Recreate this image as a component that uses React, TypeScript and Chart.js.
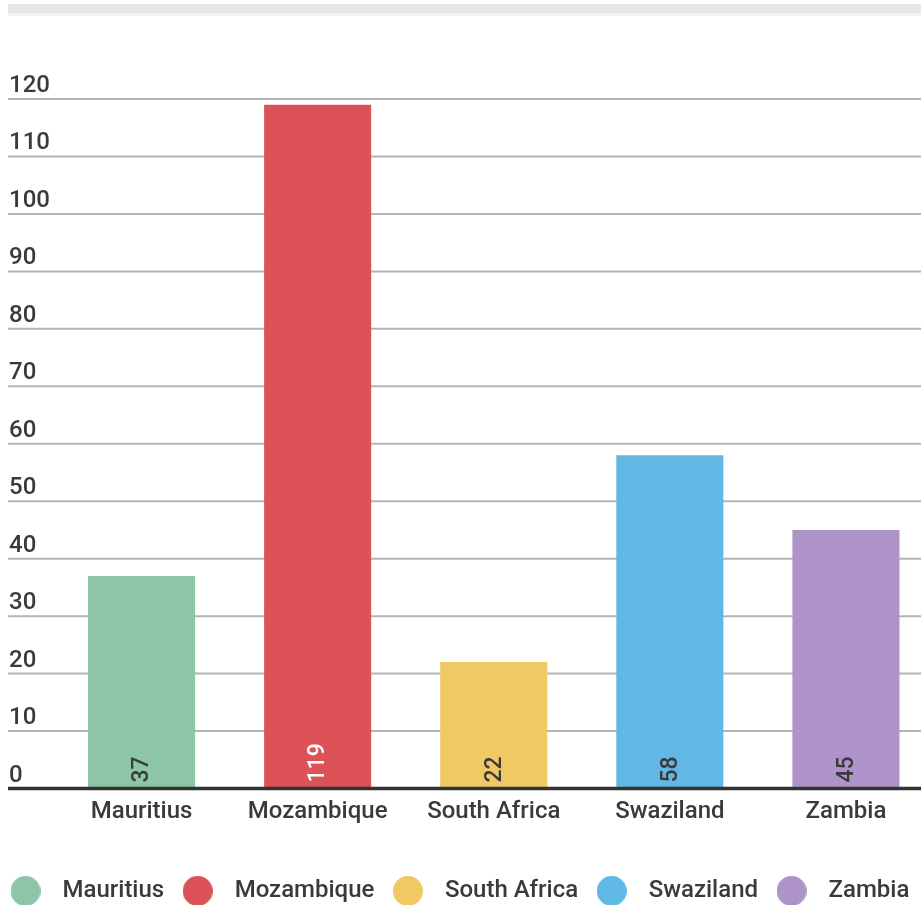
import React, { useEffect, useRef } from "react";
import { Chart, registerables } from "chart.js";

Chart.register(...registerables);

const categories = ["Mauritius", "Mozambique", "South Africa", "Swaziland", "Zambia"];
const values = [37, 119, 22, 58, 45];
const barColors = ["#8dc5a7", "#dc5257", "#f0c964", "#62b8e5", "#ae93c8"];
const valueLabelColors = ["#3a3a3a", "#ffffff", "#3a3a3a", "#3a3a3a", "#3a3a3a"];
const yTickValues = [0, 10, 20, 30, 40, 50, 60, 70, 80, 90, 100, 110, 120];

const FONT = "Roboto, 'Noto Sans', sans-serif";
const CANVAS_LEFT = -8; // page x of canvas left edge

function circleImage(color: string) {
  const c = document.createElement("canvas");
  c.width = 30;
  c.height = 30;
  const g = c.getContext("2d")!;
  g.fillStyle = color;
  g.beginPath();
  g.arc(15, 15, 15, 0, Math.PI * 2);
  g.fill();
  return c;
}

const decorPlugin = {
  id: "decor",
  beforeDraw(chart: any) {
    const ctx = chart.ctx;
    ctx.save();
    ctx.fillStyle = "#e6e6e6";
    ctx.fillRect(8 - CANVAS_LEFT, 4, chart.width, 9);
    ctx.fillStyle = "#f4f4f4";
    ctx.fillRect(8 - CANVAS_LEFT, 13, chart.width, 3);
    ctx.restore();
  },
  beforeDatasetsDraw(chart: any) {
    const ctx = chart.ctx;
    const y = chart.scales.y;
    ctx.save();
    ctx.strokeStyle = "#b4b4b4";
    ctx.lineWidth = 2;
    ctx.fillStyle = "#3a3a3a";
    ctx.font = `500 24px ${FONT}`;
    ctx.textAlign = "left";
    ctx.textBaseline = "alphabetic";
    yTickValues.forEach((v) => {
      const py = y.getPixelForValue(v);
      if (v !== 0) {
        ctx.beginPath();
        ctx.moveTo(8 - CANVAS_LEFT, py);
        ctx.lineTo(chart.width, py);
        ctx.stroke();
      }
      ctx.fillText(String(v), 9 - CANVAS_LEFT, py - 7);
    });
    ctx.restore();
  },
  afterDatasetsDraw(chart: any) {
    const ctx = chart.ctx;
    const y = chart.scales.y;
    const meta = chart.getDatasetMeta(0);
    ctx.save();
    ctx.font = `500 23px ${FONT}`;
    ctx.textAlign = "left";
    ctx.textBaseline = "middle";
    meta.data.forEach((bar: any, i: number) => {
      ctx.save();
      ctx.translate(bar.x + 1, y.getPixelForValue(0) - 6);
      ctx.rotate(-Math.PI / 2);
      ctx.fillStyle = valueLabelColors[i];
      ctx.fillText(String(values[i]), 0, 0);
      ctx.restore();
    });
    const base = y.getPixelForValue(0);
    ctx.strokeStyle = "#333333";
    ctx.lineWidth = 3.5;
    ctx.beginPath();
    ctx.moveTo(8 - CANVAS_LEFT, base);
    ctx.lineTo(chart.width, base);
    ctx.stroke();
    ctx.restore();
  },
};

export default function App() {
  const ref = useRef<HTMLCanvasElement | null>(null);
  useEffect(() => {
    document.documentElement.style.overflow = "hidden";
    const circles = barColors.map(circleImage);
    const chart = new Chart(ref.current!, {
      type: "bar",
      data: {
        labels: categories,
        datasets: [
          {
            label: "Value",
            data: values,
            backgroundColor: barColors,
            borderWidth: 0,
            categoryPercentage: 1,
            barPercentage: 0.608,
          },
        ],
      },
      options: {
        animation: false,
        responsive: true,
        maintainAspectRatio: false,
        layout: { padding: { top: 99, left: 0, right: 0, bottom: 0 } },
        scales: {
          x: {
            grid: { display: false, drawTicks: false },
            border: { display: false },
            ticks: {
              color: "#3a3a3a",
              font: { family: FONT, size: 24, weight: "500" },
              padding: 9,
              maxRotation: 0,
              autoSkip: false,
            },
            afterFit: (scale: any) => {
              scale.height = 82;
            },
          },
          y: {
            min: 0,
            max: 120,
            grid: { display: false },
            border: { display: false },
            ticks: { display: false, stepSize: 10 },
            afterFit: (scale: any) => {
              scale.width = 61.5;
            },
          },
        },
        plugins: {
          tooltip: { enabled: false },
          legend: {
            position: "bottom",
            align: "start",
            labels: {
              usePointStyle: true,
              pointStyleWidth: 50,
              boxHeight: 21,
              padding: 8.5,
              color: "#3a3a3a",
              font: { family: FONT, size: 24, weight: "500" },
              generateLabels: () =>
                categories.map((c, i) => ({
                  text: c,
                  fillStyle: barColors[i],
                  strokeStyle: barColors[i],
                  lineWidth: 0,
                  pointStyle: circles[i],
                  hidden: false,
                  index: i,
                  datasetIndex: 0,
                  fontColor: "#3a3a3a",
                })),
            },
          },
        },
      },
      plugins: [decorPlugin],
    });
    return () => chart.destroy();
  }, []);
  return (
    <div style={{ position: "absolute", left: CANVAS_LEFT, top: 0, width: 942, height: 913 }}>
      <canvas ref={ref} />
    </div>
  );
}
